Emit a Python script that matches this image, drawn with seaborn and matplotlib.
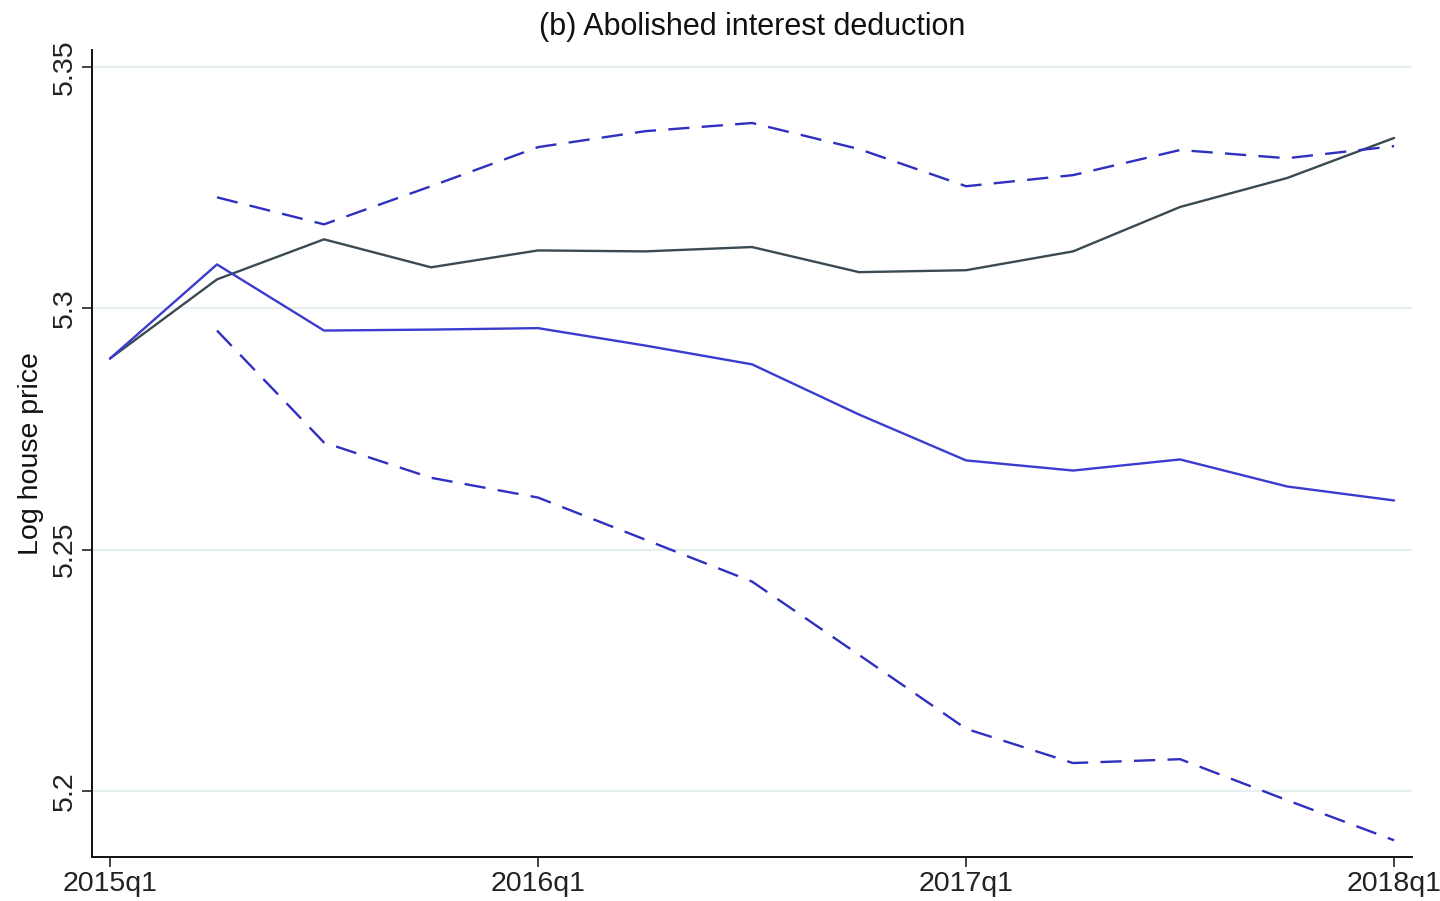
import matplotlib
matplotlib.use("Agg")
import matplotlib.pyplot as plt
import seaborn as sns
import pandas as pd

# Quarterly log house prices, 2015q1..2018q1
quarters = list(range(13))
tick_positions = [0, 4, 8, 12]
tick_labels = ["2015q1", "2016q1", "2017q1", "2018q1"]

actual = [5.2896, 5.3060, 5.3143, 5.3085, 5.3120, 5.3118, 5.3127,
          5.3075, 5.3079, 5.3118, 5.3210, 5.3270, 5.3353]
synthetic = [5.2896, 5.3091, 5.2954, 5.2956, 5.2959, 5.2923, 5.2884,
             5.2780, 5.2685, 5.2664, 5.2687, 5.2631, 5.2602]
upper_q = quarters[1:]
upper = [5.3230, 5.3174, 5.3253, 5.3334, 5.3367, 5.3384, 5.3330,
         5.3253, 5.3276, 5.3328, 5.3311, 5.3336]
lower_q = quarters[1:]
lower = [5.2954, 5.2722, 5.2649, 5.2608, 5.2521, 5.2434, 5.2282,
         5.2129, 5.2058, 5.2066, 5.1981, 5.1898]

sns.set_theme(style="white")
plt.rcParams["font.family"] = ["Liberation Sans", "DejaVu Sans"]

fig = plt.figure(figsize=(14.4, 9.01), dpi=100)
ax = fig.add_axes([0.0639, 0.0488, 0.9167, 0.8957])

grid_color = "#e6eef0"
for yv in [5.2, 5.25, 5.3, 5.35]:
    ax.axhline(yv, color=grid_color, lw=1.6, zorder=0)

dark = "#3b4a52"
blue = "#3b3bd0"
dblue = "#2f2fc0"

df_a = pd.DataFrame({"q": quarters, "v": actual})
df_s = pd.DataFrame({"q": quarters, "v": synthetic})
df_u = pd.DataFrame({"q": upper_q, "v": upper})
df_l = pd.DataFrame({"q": lower_q, "v": lower})

sns.lineplot(data=df_a, x="q", y="v", ax=ax, color=dark, lw=1.7)
sns.lineplot(data=df_s, x="q", y="v", ax=ax, color=blue, lw=1.7)
sns.lineplot(data=df_u, x="q", y="v", ax=ax, color=dblue, lw=1.7,
             dashes=False).lines[-1].set_dashes((9, 5.2))
sns.lineplot(data=df_l, x="q", y="v", ax=ax, color=dblue, lw=1.7,
             dashes=False).lines[-1].set_dashes((9, 5.2))

ax.set_xlim(-0.168, 12.168)
ax.set_ylim(5.18633, 5.35352)
ax.set_xticks(tick_positions)
ax.set_xticklabels(tick_labels)
ax.set_yticks([5.2, 5.25, 5.3, 5.35])
ax.set_yticklabels(["5.2", "5.25", "5.3", "5.35"], rotation=90, va="center")

for s in ["top", "right"]:
    ax.spines[s].set_visible(False)
for s in ["left", "bottom"]:
    ax.spines[s].set_color("#111111")
    ax.spines[s].set_linewidth(1.4)

ax.tick_params(axis="both", which="major", direction="out", length=7,
               width=1.2, color="#222222", labelsize=20.5, labelcolor="#222222",
               left=True, bottom=True, pad=3)
ax.set_xlabel("")
ax.set_ylabel("Log house price", fontsize=20.5, color="#111111", labelpad=6)
ax.set_title("(b) Abolished interest deduction", fontsize=22,
             color="#111111", pad=11)

fig.savefig("out.png", dpi=100, facecolor="white")
